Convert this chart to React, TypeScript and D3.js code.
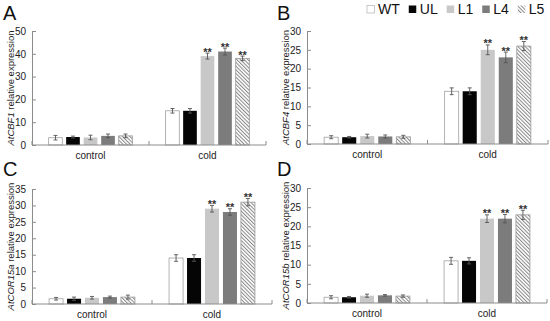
import React, { useRef, useEffect } from "react"
import * as d3 from "d3"

const categories = ["control", "cold"]
const lines = ["WT", "UL", "L1", "L4", "L5"]
// lines marked ** under cold
const starred = ["L1", "L4", "L5"]

// rows: control, cold ; columns: WT, UL, L1, L4, L5
const cbf1Mean = [[3.2, 3.5, 3.3, 4.0, 4.0], [15, 15, 39, 41, 38]]
const cbf1Err = [[1.0, 0.4, 1.0, 0.8, 0.8], [1.0, 1.0, 1.3, 1.5, 1.0]]
const cbf4Mean = [[1.8, 1.8, 2.1, 2.0, 1.9], [14, 14, 25, 23, 26]]
const cbf4Err = [[0.4, 0.2, 0.5, 0.4, 0.4], [0.9, 0.9, 1.3, 1.4, 1.2]]
const cor15aMean = [[1.6, 1.6, 1.9, 2.1, 2.1], [14, 14, 29, 28, 31]]
const cor15aErr = [[0.4, 0.5, 0.4, 0.3, 0.6], [1.0, 1.0, 1.0, 1.0, 1.1]]
const cor15bMean = [[1.5, 1.5, 1.9, 2.0, 1.8], [11, 11, 22, 22, 23]]
const cor15bErr = [[0.4, 0.2, 0.4, 0.2, 0.3], [0.9, 0.8, 1.0, 1.1, 1.2]]

const genes = ["AtCBF1", "AtCBF4", "AtCOR15a", "AtCOR15b"]
const yMaxes = [50, 30, 35, 30]
const ySteps = [10, 5, 5, 5]

const FONT = "'Liberation Sans', Arial, sans-serif"
const fills = {
  WT: "#ffffff",
  UL: "#050505",
  L1: "#c8c8c8",
  L4: "#7c7c7c",
  L5: "url(#hatch)",
}

const panels = [
  { letter: "A", x0: 32, x1: 266, yTop: 31, yBot: 145, mean: cbf1Mean, err: cbf1Err },
  { letter: "B", x0: 307, x1: 548, yTop: 31, yBot: 144, mean: cbf4Mean, err: cbf4Err },
  { letter: "C", x0: 32, x1: 272, yTop: 189, yBot: 304, mean: cor15aMean, err: cor15aErr },
  { letter: "D", x0: 307, x1: 547, yTop: 188, yBot: 303, mean: cor15bMean, err: cor15bErr },
]

function App() {
  const ref = useRef(null)

  useEffect(() => {
    const svg = d3.select(ref.current)
    svg.selectAll("*").remove()

    const defs = svg.append("defs")
    const pat = defs
      .append("pattern")
      .attr("id", "hatch")
      .attr("patternUnits", "userSpaceOnUse")
      .attr("width", 2.6)
      .attr("height", 2.6)
      .attr("patternTransform", "rotate(-45)")
    pat.append("rect").attr("width", 2.6).attr("height", 2.6).attr("fill", "#fff")
    pat.append("rect").attr("width", 1).attr("height", 2.6).attr("fill", "#888")

    panels.forEach((p, pi) => {
      const g = svg.append("g")
      const yMax = yMaxes[pi]

      const x = d3.scaleBand().domain(categories).range([p.x0, p.x1])
      const xs = d3
        .scaleBand()
        .domain(lines)
        .range([0, x.bandwidth()])
        .paddingInner(0.22)
        .paddingOuter(0.95)
      const y = d3.scaleLinear().domain([0, yMax]).range([p.yBot, p.yTop])

      // bars
      categories.forEach((c, ci) => {
        lines.forEach((s, si) => {
          const v = p.mean[ci][si]
          const e = p.err[ci][si]
          const bx = x(c) + xs(s)
          const cx = bx + xs.bandwidth() / 2
          g.append("rect")
            .attr("x", bx)
            .attr("y", y(v))
            .attr("width", xs.bandwidth())
            .attr("height", y(0) - y(v))
            .attr("fill", fills[s])
            .attr("stroke", s === "WT" ? "#a0a0a0" : s === "L5" ? "#999" : "none")
            .attr("stroke-width", 0.8)

          // error bar
          g.append("line")
            .attr("x1", cx).attr("x2", cx)
            .attr("y1", y(v - e)).attr("y2", y(v + e))
            .attr("stroke", "#555").attr("stroke-width", 0.9)
          ;[v - e, v + e].forEach(t => {
            g.append("line")
              .attr("x1", cx - 2).attr("x2", cx + 2)
              .attr("y1", y(t)).attr("y2", y(t))
              .attr("stroke", "#555").attr("stroke-width", 0.9)
          })

          if (c === "cold" && starred.includes(s)) {
            g.append("text")
              .attr("x", cx)
              .attr("y", y(v + e) + 2.5)
              .attr("text-anchor", "middle")
              .style("font-family", FONT)
              .style("font-size", "11px")
              .style("font-weight", "bold")
              .attr("fill", "#333")
              .text("**")
          }
        })
      })

      // y axis
      const yAxis = g
        .append("g")
        .attr("transform", `translate(${p.x0},0)`)
        .call(
          d3
            .axisLeft(y)
            .tickValues(d3.range(0, yMax + 1, ySteps[pi]))
            .tickSize(-4)
            .tickPadding(6)
        )
      yAxis.selectAll(".domain").attr("stroke", "#8c8c8c")
      yAxis.selectAll("line").attr("stroke", "#8c8c8c")
      yAxis
        .selectAll("text")
        .style("font-family", FONT)
        .style("font-size", "10px")
        .attr("fill", "#222")

      // x axis
      g.append("line")
        .attr("x1", p.x0).attr("x2", p.x1)
        .attr("y1", y(0)).attr("y2", y(0))
        .attr("stroke", "#8c8c8c")
      const bounds = [p.x0, ...categories.map(c => x(c) + x.bandwidth())]
      bounds.forEach(b => {
        g.append("line")
          .attr("x1", b).attr("x2", b)
          .attr("y1", y(0)).attr("y2", y(0) - 4)
          .attr("stroke", "#8c8c8c")
      })
      categories.forEach(c => {
        g.append("text")
          .attr("x", x(c) + x.bandwidth() / 2)
          .attr("y", y(0) + 14)
          .attr("text-anchor", "middle")
          .style("font-family", FONT)
          .style("font-size", "10px")
          .attr("fill", "#222")
          .text(c)
      })

      // y label
      const lab = g
        .append("text")
        .attr("transform", `translate(${p.x0 - 18.5},${(p.yTop + p.yBot) / 2}) rotate(-90)`)
        .attr("text-anchor", "middle")
        .style("font-family", FONT)
        .style("font-size", "9.5px")
        .attr("fill", "#222")
      lab.append("tspan").style("font-style", "italic").text(genes[pi])
      lab.append("tspan").text(" relative expression")

      // panel letter
      g.append("text")
        .attr("x", pi % 2 === 0 ? 3 : 277)
        .attr("y", pi < 2 ? 20 : 176)
        .style("font-family", FONT)
        .style("font-size", "20px")
        .attr("fill", "#111")
        .text(p.letter)
    })

    // legend
    const leg = svg.append("g")
    let lx = 367
    lines.forEach(s => {
      leg.append("rect")
        .attr("x", lx).attr("y", 5.5)
        .attr("width", 7.5).attr("height", 7.5)
        .attr("fill", fills[s])
        .attr("stroke", s === "WT" ? "#bbb" : "none")
        .attr("stroke-width", 0.8)
      const t = leg.append("text")
        .attr("x", lx + 11)
        .attr("y", 14)
        .style("font-family", FONT)
        .style("font-size", "14px")
        .attr("fill", "#111")
        .text(s)
      lx = lx + 11 + t.node().getComputedTextLength() + 9
    })
  }, [])

  return (
    <svg
      ref={ref}
      width={550}
      height={321}
      style={{ position: "absolute", left: 0, top: 0, background: "#fff" }}
    ></svg>
  )
}

export default App
